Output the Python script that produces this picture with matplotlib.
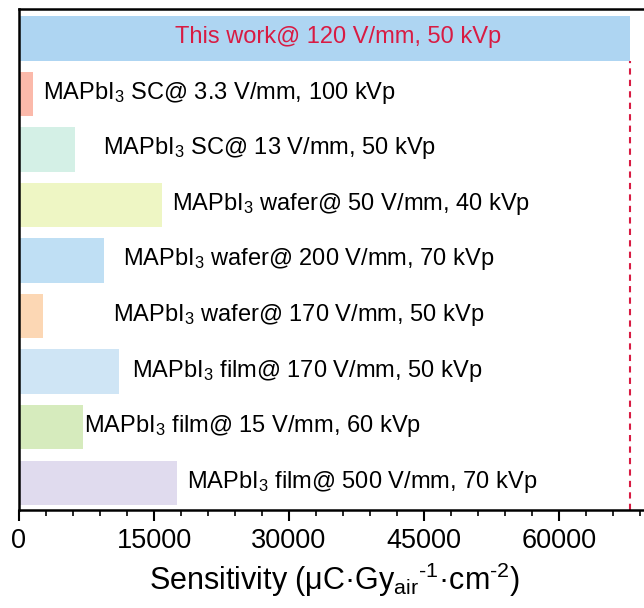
import matplotlib.pyplot as plt
from matplotlib.ticker import MultipleLocator

plt.rcParams['font.family'] = ['Liberation Sans', 'DejaVu Sans']
plt.rcParams['mathtext.default'] = 'regular'

# data (bottom to top)
labels = [
    'MAPbI$_3$ film@ 500 V/mm, 70 kVp',
    'MAPbI$_3$ film@ 15 V/mm, 60 kVp',
    'MAPbI$_3$ film@ 170 V/mm, 50 kVp',
    'MAPbI$_3$ wafer@ 170 V/mm, 50 kVp',
    'MAPbI$_3$ wafer@ 200 V/mm, 70 kVp',
    'MAPbI$_3$ wafer@ 50 V/mm, 40 kVp',
    'MAPbI$_3$ SC@ 13 V/mm, 50 kVp',
    'MAPbI$_3$ SC@ 3.3 V/mm, 100 kVp',
    'This work@ 120 V/mm, 50 kVp',
]
sensitivity = [17500, 7100, 11100, 2700, 9400, 15900, 6200, 1500, 67900]
colors = ['#e0dbee', '#d6ebbd', '#cfe5f5', '#fcd7b4', '#bfdff4',
          '#eef6c4', '#d4f0e6', '#fbb9aa', '#aed5f2']

fig = plt.figure(figsize=(6.44, 6.08), dpi=100)
ax = fig.add_axes([19 / 644, 98 / 608, 630 / 644, 501 / 608])

ypos = list(range(len(labels)))
ax.barh(ypos, sensitivity, height=0.8, color=colors, edgecolor='none')

# text placement (x in data units)
label_x = [18700, 7200, 12500, 10400, 11600, 17000, 9300, 2670, 17300]
for i, (lab, lx) in enumerate(zip(labels, label_x)):
    c = '#d81b43' if i == len(labels) - 1 else 'black'
    ax.text(lx, i + 0.02, lab, va='center', ha='left', fontsize=17, color=c)

ymin, ymax = -0.49, 8.53
ax.vlines(sensitivity[-1], ymin, len(labels) - 1 - 0.4, colors='#d81b43',
          linestyles=(0, (3, 2.5)), linewidth=1.5)

ax.set_xlim(0, 70000)
ax.set_ylim(ymin, ymax)
ax.set_yticks([])
ax.xaxis.set_major_locator(MultipleLocator(15000))
ax.xaxis.set_minor_locator(MultipleLocator(3000))
ax.tick_params(axis='x', which='major', direction='out', length=8, width=1.5,
               labelsize=19.5, pad=5)
ax.tick_params(axis='x', which='minor', direction='out', length=4, width=1.2)
for s in ax.spines.values():
    s.set_linewidth(1.8)

ax.set_xlabel('Sensitivity (μC·Gy$_{air}$$^{\u20101}$·cm$^{\u20102}$)',
              fontsize=22, labelpad=5)

fig.savefig('out.png', dpi=100)
